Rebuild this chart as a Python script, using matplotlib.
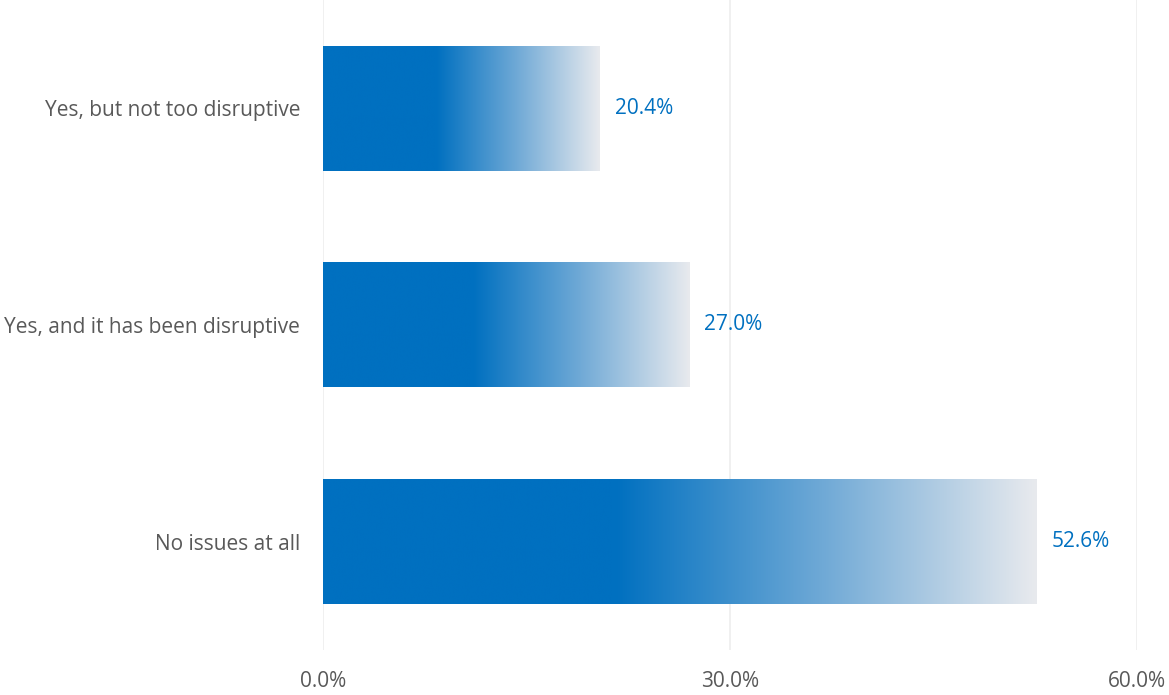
import matplotlib.pyplot as plt
import numpy as np
from matplotlib.colors import LinearSegmentedColormap

plt.rcParams['font.family'] = ['Open Sans', 'DejaVu Sans']

# data
categories = ['No issues at all', 'Yes, and it has been disruptive', 'Yes, but not too disruptive']
values = [52.6, 27.0, 20.4]
xticks = [0, 30, 60]

blue = '#0070C0'
grey = '#595959'
cmap = LinearSegmentedColormap.from_list(
    'fade', [(0, blue), (0.41, blue), (0.7, '#6FA9D6'), (1, '#E8EAEE')])

fig = plt.figure(figsize=(11.69, 6.95), dpi=100)
ax = fig.add_axes([323 / 1169, 1 - 650 / 695, (1137 - 323) / 1169, 650 / 695])

grad = np.linspace(0, 1, 256).reshape(1, -1)
h = 0.575
for i, v in enumerate(values):
    ax.imshow(grad, cmap=cmap, aspect='auto', extent=[0, v, i - h / 2, i + h / 2],
              interpolation='bicubic', zorder=2)
    ax.text(v + 1.1, i, f'{v:.1f}%', va='center', ha='left', color=blue, fontsize=15)

ax.set_xlim(0, 60)
ax.set_ylim(-0.5, 2.5)
ax.set_xticks(xticks)
ax.set_xticklabels([f'{t:.1f}%' for t in xticks], fontsize=15, color=grey)
ax.set_yticks(range(len(categories)))
ax.set_yticklabels(categories, fontsize=15, color=grey)
ax.tick_params(axis='x', length=0, pad=15)
ax.tick_params(axis='y', length=0, pad=16.5)
ax.grid(axis='x', color='#EEEEEE', linewidth=1.2, zorder=0)
ax.set_axisbelow(True)
for s in ax.spines.values():
    s.set_visible(False)

fig.savefig('out.png', dpi=100)
